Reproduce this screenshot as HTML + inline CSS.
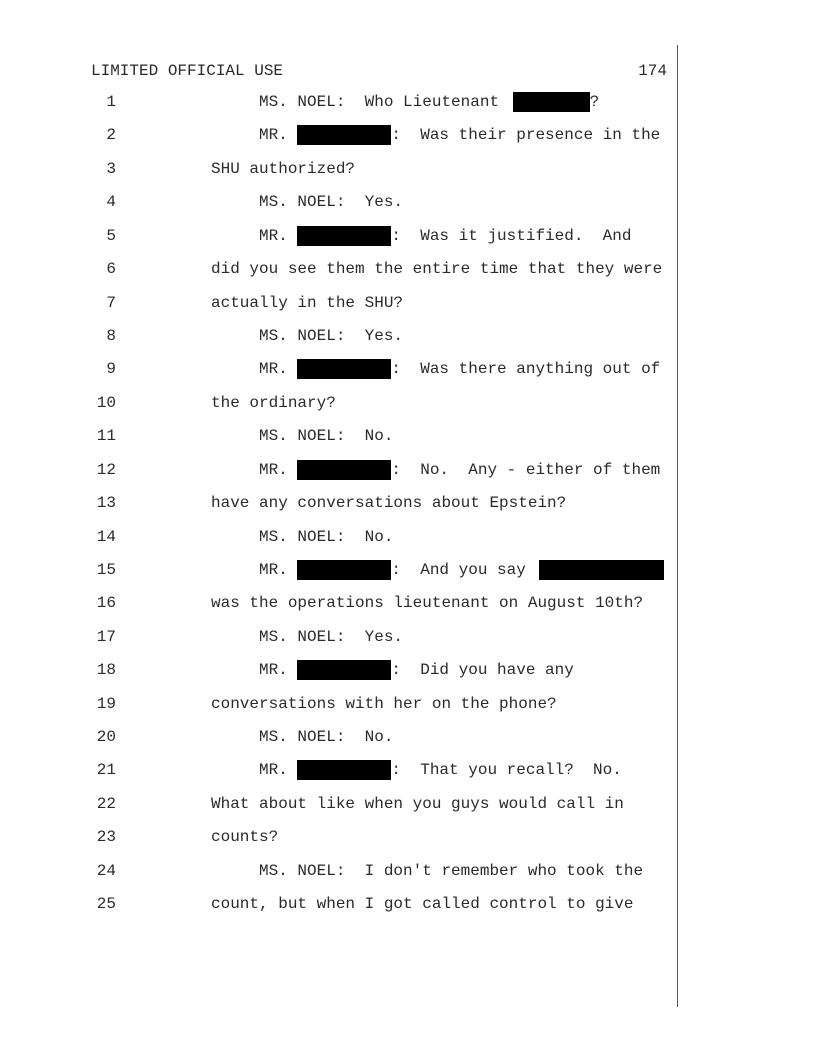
<!DOCTYPE html>
<html><head><meta charset="utf-8"><style>
body{margin:0;width:816px;height:1056px;background:#fff;position:relative;font-family:"Liberation Mono",monospace;font-size:16px;color:#2a2a2a;overflow:hidden}
.l{position:absolute;left:0;height:20px;line-height:20px;white-space:pre}
.n{position:absolute;left:60px;width:56px;text-align:right}
.t{position:absolute;left:211px}
.r{display:inline-block;background:#000;height:20px;vertical-align:top}
.vl{position:absolute;left:677px;top:45px;width:1px;height:962px;background:#555}
</style></head><body>
<div class="vl"></div>
<div class="l" style="top:61px;left:91px">LIMITED OFFICIAL USE</div>
<div class="l" style="top:61px;left:600px;width:67px;text-align:right">174</div>
<div class="l" style="top:92px"><span class="n">1</span><span class="t">     MS. NOEL:  Who Lieutenant <span class="r" style="width:77px;margin-left:4px"></span>?</span></div>
<div class="l" style="top:125.4px"><span class="n">2</span><span class="t">     MR. <span class="r" style="width:94px"></span>:  Was their presence in the</span></div>
<div class="l" style="top:158.8px"><span class="n">3</span><span class="t">SHU authorized?</span></div>
<div class="l" style="top:192.3px"><span class="n">4</span><span class="t">     MS. NOEL:  Yes.</span></div>
<div class="l" style="top:225.7px"><span class="n">5</span><span class="t">     MR. <span class="r" style="width:94px"></span>:  Was it justified.  And</span></div>
<div class="l" style="top:259.1px"><span class="n">6</span><span class="t">did you see them the entire time that they were</span></div>
<div class="l" style="top:292.5px"><span class="n">7</span><span class="t">actually in the SHU?</span></div>
<div class="l" style="top:325.9px"><span class="n">8</span><span class="t">     MS. NOEL:  Yes.</span></div>
<div class="l" style="top:359.4px"><span class="n">9</span><span class="t">     MR. <span class="r" style="width:94px"></span>:  Was there anything out of</span></div>
<div class="l" style="top:392.8px"><span class="n">10</span><span class="t">the ordinary?</span></div>
<div class="l" style="top:426.2px"><span class="n">11</span><span class="t">     MS. NOEL:  No.</span></div>
<div class="l" style="top:459.6px"><span class="n">12</span><span class="t">     MR. <span class="r" style="width:94px"></span>:  No.  Any - either of them</span></div>
<div class="l" style="top:493px"><span class="n">13</span><span class="t">have any conversations about Epstein?</span></div>
<div class="l" style="top:526.5px"><span class="n">14</span><span class="t">     MS. NOEL:  No.</span></div>
<div class="l" style="top:559.9px"><span class="n">15</span><span class="t">     MR. <span class="r" style="width:94px"></span>:  And you say <span class="r" style="width:125px;margin-left:4px"></span></span></div>
<div class="l" style="top:593.3px"><span class="n">16</span><span class="t">was the operations lieutenant on August 10th?</span></div>
<div class="l" style="top:626.7px"><span class="n">17</span><span class="t">     MS. NOEL:  Yes.</span></div>
<div class="l" style="top:660.1px"><span class="n">18</span><span class="t">     MR. <span class="r" style="width:94px"></span>:  Did you have any</span></div>
<div class="l" style="top:693.6px"><span class="n">19</span><span class="t">conversations with her on the phone?</span></div>
<div class="l" style="top:727px"><span class="n">20</span><span class="t">     MS. NOEL:  No.</span></div>
<div class="l" style="top:760.4px"><span class="n">21</span><span class="t">     MR. <span class="r" style="width:94px"></span>:  That you recall?  No.</span></div>
<div class="l" style="top:793.8px"><span class="n">22</span><span class="t">What about like when you guys would call in</span></div>
<div class="l" style="top:827.2px"><span class="n">23</span><span class="t">counts?</span></div>
<div class="l" style="top:860.7px"><span class="n">24</span><span class="t">     MS. NOEL:  I don't remember who took the</span></div>
<div class="l" style="top:894.1px"><span class="n">25</span><span class="t">count, but when I got called control to give</span></div>
</body></html>
